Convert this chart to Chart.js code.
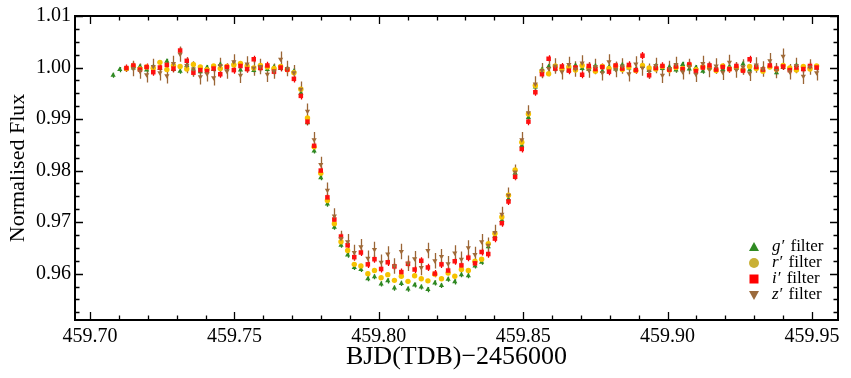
<!DOCTYPE html>
<html><head><meta charset="utf-8">
<script src="https://cdn.jsdelivr.net/npm/chart.js@4/dist/chart.umd.min.js"></script>
<style>html,body{margin:0;padding:0;background:#fff;}#wrap{width:851px;height:378px;}</style>
</head><body><div id="wrap"><canvas id="c" width="851" height="378"></canvas></div>
<script>
// ---- DATA ----
const times = [
459.7080,459.7103,459.7126,459.7150,459.7173,459.7196,459.7219,459.7242,459.7266,459.7289,
459.7312,459.7335,459.7358,459.7382,459.7405,459.7428,459.7451,459.7474,459.7498,459.7521,
459.7544,459.7567,459.7590,459.7614,459.7637,459.7660,459.7683,459.7706,459.7730,459.7753,
459.7776,459.7799,459.7822,459.7846,459.7869,459.7892,459.7915,459.7938,459.7962,459.7985,
459.8008,459.8031,459.8054,459.8078,459.8101,459.8124,459.8147,459.8170,459.8194,459.8217,
459.8240,459.8263,459.8286,459.8310,459.8333,459.8356,459.8379,459.8402,459.8426,459.8449,
459.8472,459.8495,459.8518,459.8542,459.8565,459.8588,459.8611,459.8634,459.8658,459.8681,
459.8704,459.8727,459.8750,459.8774,459.8797,459.8820,459.8843,459.8866,459.8890,459.8913,
459.8936,459.8959,459.8982,459.9006,459.9029,459.9052,459.9075,459.9098,459.9122,459.9145,
459.9168,459.9191,459.9214,459.9238,459.9261,459.9284,459.9307,459.9330,459.9354,459.9377,
459.9400,459.9423,459.9446,459.9470,459.9493,459.9516];

const fluxG = [
0.9985,0.9996,0.9997,0.9999,1.0002,0.9995,1.0001,0.9998,1.0012,0.9996,
0.9993,1.0004,0.9997,0.9992,1.0000,0.9996,1.0006,0.9999,1.0009,0.9995,
0.9997,0.9994,0.9998,0.9996,1.0001,0.9998,0.9997,0.9993,0.9950,0.9893,
0.9838,0.9786,0.9735,0.9690,0.9655,0.9636,0.9612,0.9608,0.9590,0.9594,
0.9580,0.9586,0.9572,0.9581,0.9570,0.9578,0.9574,0.9569,0.9582,0.9577,
0.9589,0.9584,0.9598,0.9596,0.9615,0.9622,0.9652,0.9672,0.9703,0.9745,
0.9795,0.9848,0.9903,0.9962,0.9996,1.0002,0.9997,1.0000,0.9995,1.0004,
0.9998,0.9996,1.0003,0.9993,1.0001,0.9997,1.0005,0.9999,0.9996,1.0002,
0.9994,1.0003,0.9998,1.0001,0.9995,1.0006,0.9997,1.0000,0.9993,1.0004,
0.9999,0.9996,1.0002,0.9998,1.0007,0.9995,1.0001,0.9997,1.0003,0.9990,
1.0000,0.9998,1.0004,0.9996,1.0001,0.9999];

const fluxR = [
null,null,0.9998,1.0003,0.9997,1.0001,0.9999,1.0010,0.9996,1.0004,
1.0002,0.9997,1.0006,1.0001,0.9996,1.0003,0.9998,1.0002,1.0005,1.0008,
1.0003,0.9999,1.0004,1.0001,0.9998,1.0002,0.9996,0.9990,0.9958,0.9902,
0.9846,0.9795,0.9742,0.9697,0.9662,0.9645,0.9618,0.9615,0.9600,0.9606,
0.9592,0.9598,0.9587,0.9595,0.9585,0.9596,0.9590,0.9586,0.9599,0.9590,
0.9601,0.9595,0.9608,0.9606,0.9624,0.9628,0.9658,0.9678,0.9710,0.9752,
0.9801,0.9855,0.9910,0.9965,0.9993,0.9988,1.0003,0.9997,1.0001,0.9995,
1.0004,0.9999,0.9993,1.0002,0.9998,1.0003,0.9996,1.0001,0.9994,1.0004,
0.9999,0.9997,1.0002,0.9995,1.0000,0.9998,1.0005,0.9996,1.0001,0.9999,
0.9994,1.0003,0.9997,1.0000,0.9995,1.0002,0.9998,0.9993,1.0001,0.9996,
1.0004,0.9999,0.9995,1.0002,0.9997,1.0003];

const fluxI = [
null,null,0.9999,1.0004,0.9996,1.0001,0.9991,1.0000,1.0005,0.9998,
1.0033,1.0013,0.9990,0.9995,0.9993,0.9998,0.9987,1.0001,0.9995,1.0003,
0.9997,1.0016,0.9999,1.0004,0.9992,1.0000,0.9996,0.9978,0.9945,0.9895,
0.9848,0.9800,0.9748,0.9705,0.9672,0.9655,0.9632,0.9641,0.9618,0.9628,
0.9609,0.9622,0.9614,0.9603,0.9619,0.9608,0.9625,0.9612,0.9600,0.9618,
0.9606,0.9624,0.9616,0.9631,0.9620,0.9642,0.9638,0.9668,0.9698,0.9740,
0.9788,0.9842,0.9895,0.9952,0.9987,1.0017,0.9998,1.0002,0.9994,1.0000,
0.9986,1.0003,0.9997,1.0001,0.9992,1.0004,0.9998,1.0005,0.9995,1.0023,
0.9985,0.9999,1.0003,0.9996,1.0002,0.9997,1.0006,0.9993,1.0000,1.0004,
0.9996,1.0001,0.9997,1.0003,0.9994,1.0016,1.0001,0.9996,1.0004,0.9998,
1.0002,0.9995,1.0000,0.9997,1.0003,1.0000];

const fluxZ = [
null,null,null,0.9998,0.9993,0.9986,1.0002,0.9990,0.9984,1.0008,
1.0026,1.0004,0.9997,0.9982,0.9988,0.9980,1.0004,0.9993,1.0011,0.9985,
1.0007,0.9999,1.0002,0.9987,0.9993,1.0016,0.9998,0.9990,0.9958,0.9915,
0.9860,0.9812,0.9762,0.9712,0.9668,0.9662,0.9641,0.9652,0.9630,0.9647,
0.9622,0.9638,0.9615,0.9643,0.9620,0.9629,0.9612,0.9645,0.9625,0.9633,
0.9619,0.9640,0.9628,0.9650,0.9637,0.9662,0.9655,0.9680,0.9715,0.9752,
0.9797,0.9860,0.9912,0.9968,0.9994,0.9998,1.0003,0.9992,1.0006,0.9997,
1.0009,0.9995,1.0002,0.9990,1.0011,0.9996,1.0003,0.9988,1.0007,0.9999,
0.9993,1.0004,0.9985,0.9998,1.0006,0.9992,1.0002,0.9987,1.0008,0.9996,
1.0003,0.9991,1.0010,0.9995,1.0001,0.9989,1.0005,0.9997,1.0013,0.9994,
1.0022,0.9992,1.0004,0.9983,1.0001,0.9990];

const errG = 0.0005;
const errR = 0.0004;
const errI = 0.0007;
const errZ = 0.0015;

const filterNames = ["g\u2032", "r\u2032", "i\u2032", "z\u2032"];
const xTicks = [459.70, 459.75, 459.80, 459.85, 459.90, 459.95];
const yTicks = [0.96, 0.97, 0.98, 0.99, 1.00, 1.01];

// ---- BUILD ----
function pts(flux, err) {
  const out = [];
  for (let i = 0; i < times.length; i++) {
    if (flux[i] !== null) out.push({x: times[i], y: flux[i], e: err});
  }
  return out;
}
const SERIF = "'Liberation Serif','DejaVu Serif',serif";
const styles = [
  {pt:'#2f8a22', bar:'#2a7a1c', legend:'#2f8a22', style:'triangle', rot:0, r:3},
  {pt:'#f6c200', bar:'#efb800', legend:'#c9b035', style:'circle', rot:0, r:2.7},
  {pt:'#ff1010', bar:'#ee0000', legend:'#ff0000', style:'rect', rot:0, r:3.2},
  {pt:'#a06a38', bar:'#9a6535', legend:'#9b6a3c', style:'triangle', rot:180, r:3}
];
const fluxes = [fluxG, fluxR, fluxI, fluxZ];
const errs = [errG, errR, errI, errZ];
const datasets = fluxes.map((f, k) => ({
  label: filterNames[k] + ' filter',
  data: pts(f, errs[k]),
  showLine: false,
  pointStyle: styles[k].style,
  rotation: styles[k].rot,
  pointRadius: styles[k].r,
  pointBorderWidth: 0,
  pointBackgroundColor: styles[k].pt,
  pointBorderColor: styles[k].pt,
  order: 3 - k,
  barColor: styles[k].bar
}));

const errorBarPlugin = {
  id: 'errbars',
  beforeDatasetsDraw(chart) {
    const ctx = chart.ctx, xs = chart.scales.x, ys = chart.scales.y;
    const ca = chart.chartArea;
    ctx.save();
    ctx.beginPath(); ctx.rect(ca.left, ca.top, ca.right - ca.left, ca.bottom - ca.top); ctx.clip();
    ctx.lineWidth = 1.3;
    for (let k = 0; k < chart.data.datasets.length; k++) {
      const ds = chart.data.datasets[k];
      ctx.strokeStyle = ds.barColor;
      ctx.beginPath();
      ds.data.forEach(p => {
        const px = Math.round(xs.getPixelForValue(p.x)) + 0.5;
        ctx.moveTo(px, ys.getPixelForValue(p.y - p.e));
        ctx.lineTo(px, ys.getPixelForValue(p.y + p.e));
      });
      ctx.stroke();
    }
    ctx.restore();
  }
};

const framePlugin = {
  id: 'frame',
  afterDraw(chart) {
    const ctx = chart.ctx, xs = chart.scales.x, ys = chart.scales.y;
    const {left, right, top, bottom} = chart.chartArea;
    ctx.save();
    ctx.strokeStyle = '#000';
    ctx.lineWidth = 2;
    ctx.strokeRect(left, top, right - left, bottom - top);
    ctx.lineWidth = 1.3;
    ctx.beginPath();
    const MAJ = 8, MIN = 4.5;
    for (let m = 0; m <= 26; m++) {
      const v = 459.69 + m * 0.01;
      if (v < xs.min || v > xs.max) continue;
      const isMaj = xTicks.some(t => Math.abs(t - v) < 1e-6);
      const L = isMaj ? MAJ : MIN;
      const px = Math.round(xs.getPixelForValue(v)) + 0.5;
      ctx.moveTo(px, bottom); ctx.lineTo(px, bottom - L);
      ctx.moveTo(px, top); ctx.lineTo(px, top + L);
    }
    for (let m = 0; m <= 30; m++) {
      const v = 0.9375 + m * 0.0025;
      if (v < ys.min || v > ys.max + 1e-9) continue;
      const isMaj = yTicks.some(t => Math.abs(t - v) < 1e-6);
      const L = isMaj ? MAJ : MIN;
      const py = Math.round(ys.getPixelForValue(v)) + 0.5;
      ctx.moveTo(left, py); ctx.lineTo(left + L, py);
      ctx.moveTo(right, py); ctx.lineTo(right - L, py);
    }
    ctx.stroke();

    // legend
    const rows = [-73, -57, -41, -25];
    const mx = right - 84, tx = right - 66;
    for (let k = 0; k < 4; k++) {
      const y = bottom + rows[k];
      const s = styles[k];
      ctx.fillStyle = s.legend;
      ctx.beginPath();
      if (k === 0) { ctx.moveTo(mx, y - 5); ctx.lineTo(mx + 5, y + 4); ctx.lineTo(mx - 5, y + 4); ctx.closePath(); }
      else if (k === 1) { ctx.arc(mx, y, 5, 0, Math.PI * 2); }
      else if (k === 2) { ctx.rect(mx - 4.5, y - 4.5, 9, 9); }
      else { ctx.moveTo(mx, y + 5); ctx.lineTo(mx + 5, y - 4); ctx.lineTo(mx - 5, y - 4); ctx.closePath(); }
      ctx.fill();
      ctx.fillStyle = '#000';
      ctx.textBaseline = 'middle';
      ctx.font = "italic 17px " + SERIF;
      ctx.fillText(filterNames[k], tx, y);
      const w = ctx.measureText(filterNames[k]).width;
      ctx.font = "17px " + SERIF;
      ctx.fillText(' filter', tx + w + 2, y);
    }
    ctx.restore();
  }
};

new Chart(document.getElementById('c'), {
  type: 'scatter',
  data: {datasets},
  options: {
    responsive: false,
    animation: false,
    layout: {padding: {top: 13, right: 13, left: 0, bottom: 0}},
    plugins: {legend: {display: false}, tooltip: {enabled: false}},
    scales: {
      x: {
        type: 'linear', min: 459.6948, max: 459.959,
        afterBuildTicks: s => { s.ticks = xTicks.map(v => ({value: v})); },
        afterFit: s => { s.height = 58; },
        grid: {display: false, drawTicks: false},
        border: {display: false},
        ticks: {callback: v => v.toFixed(2), font: {family: SERIF, size: 20}, color: '#000', padding: 5, maxRotation: 0, autoSkip: false},
        title: {display: true, text: 'BJD(TDB)\u22122456000', font: {family: SERIF, size: 26}, color: '#000', padding: {top: 0, bottom: 5}}
      },
      y: {
        type: 'linear', min: 0.951, max: 1.01,
        afterBuildTicks: s => { s.ticks = yTicks.map(v => ({value: v})); },
        afterFit: s => { s.width = 75; },
        grid: {display: false, drawTicks: false},
        border: {display: false},
        ticks: {callback: v => v.toFixed(2), font: {family: SERIF, size: 20}, color: '#000', padding: 4, autoSkip: false},
        title: {display: true, text: 'Normalised Flux', font: {family: SERIF, size: 22}, color: '#000', padding: {top: 5, bottom: 0}}
      }
    }
  },
  plugins: [errorBarPlugin, framePlugin]
});
</script></body></html>
